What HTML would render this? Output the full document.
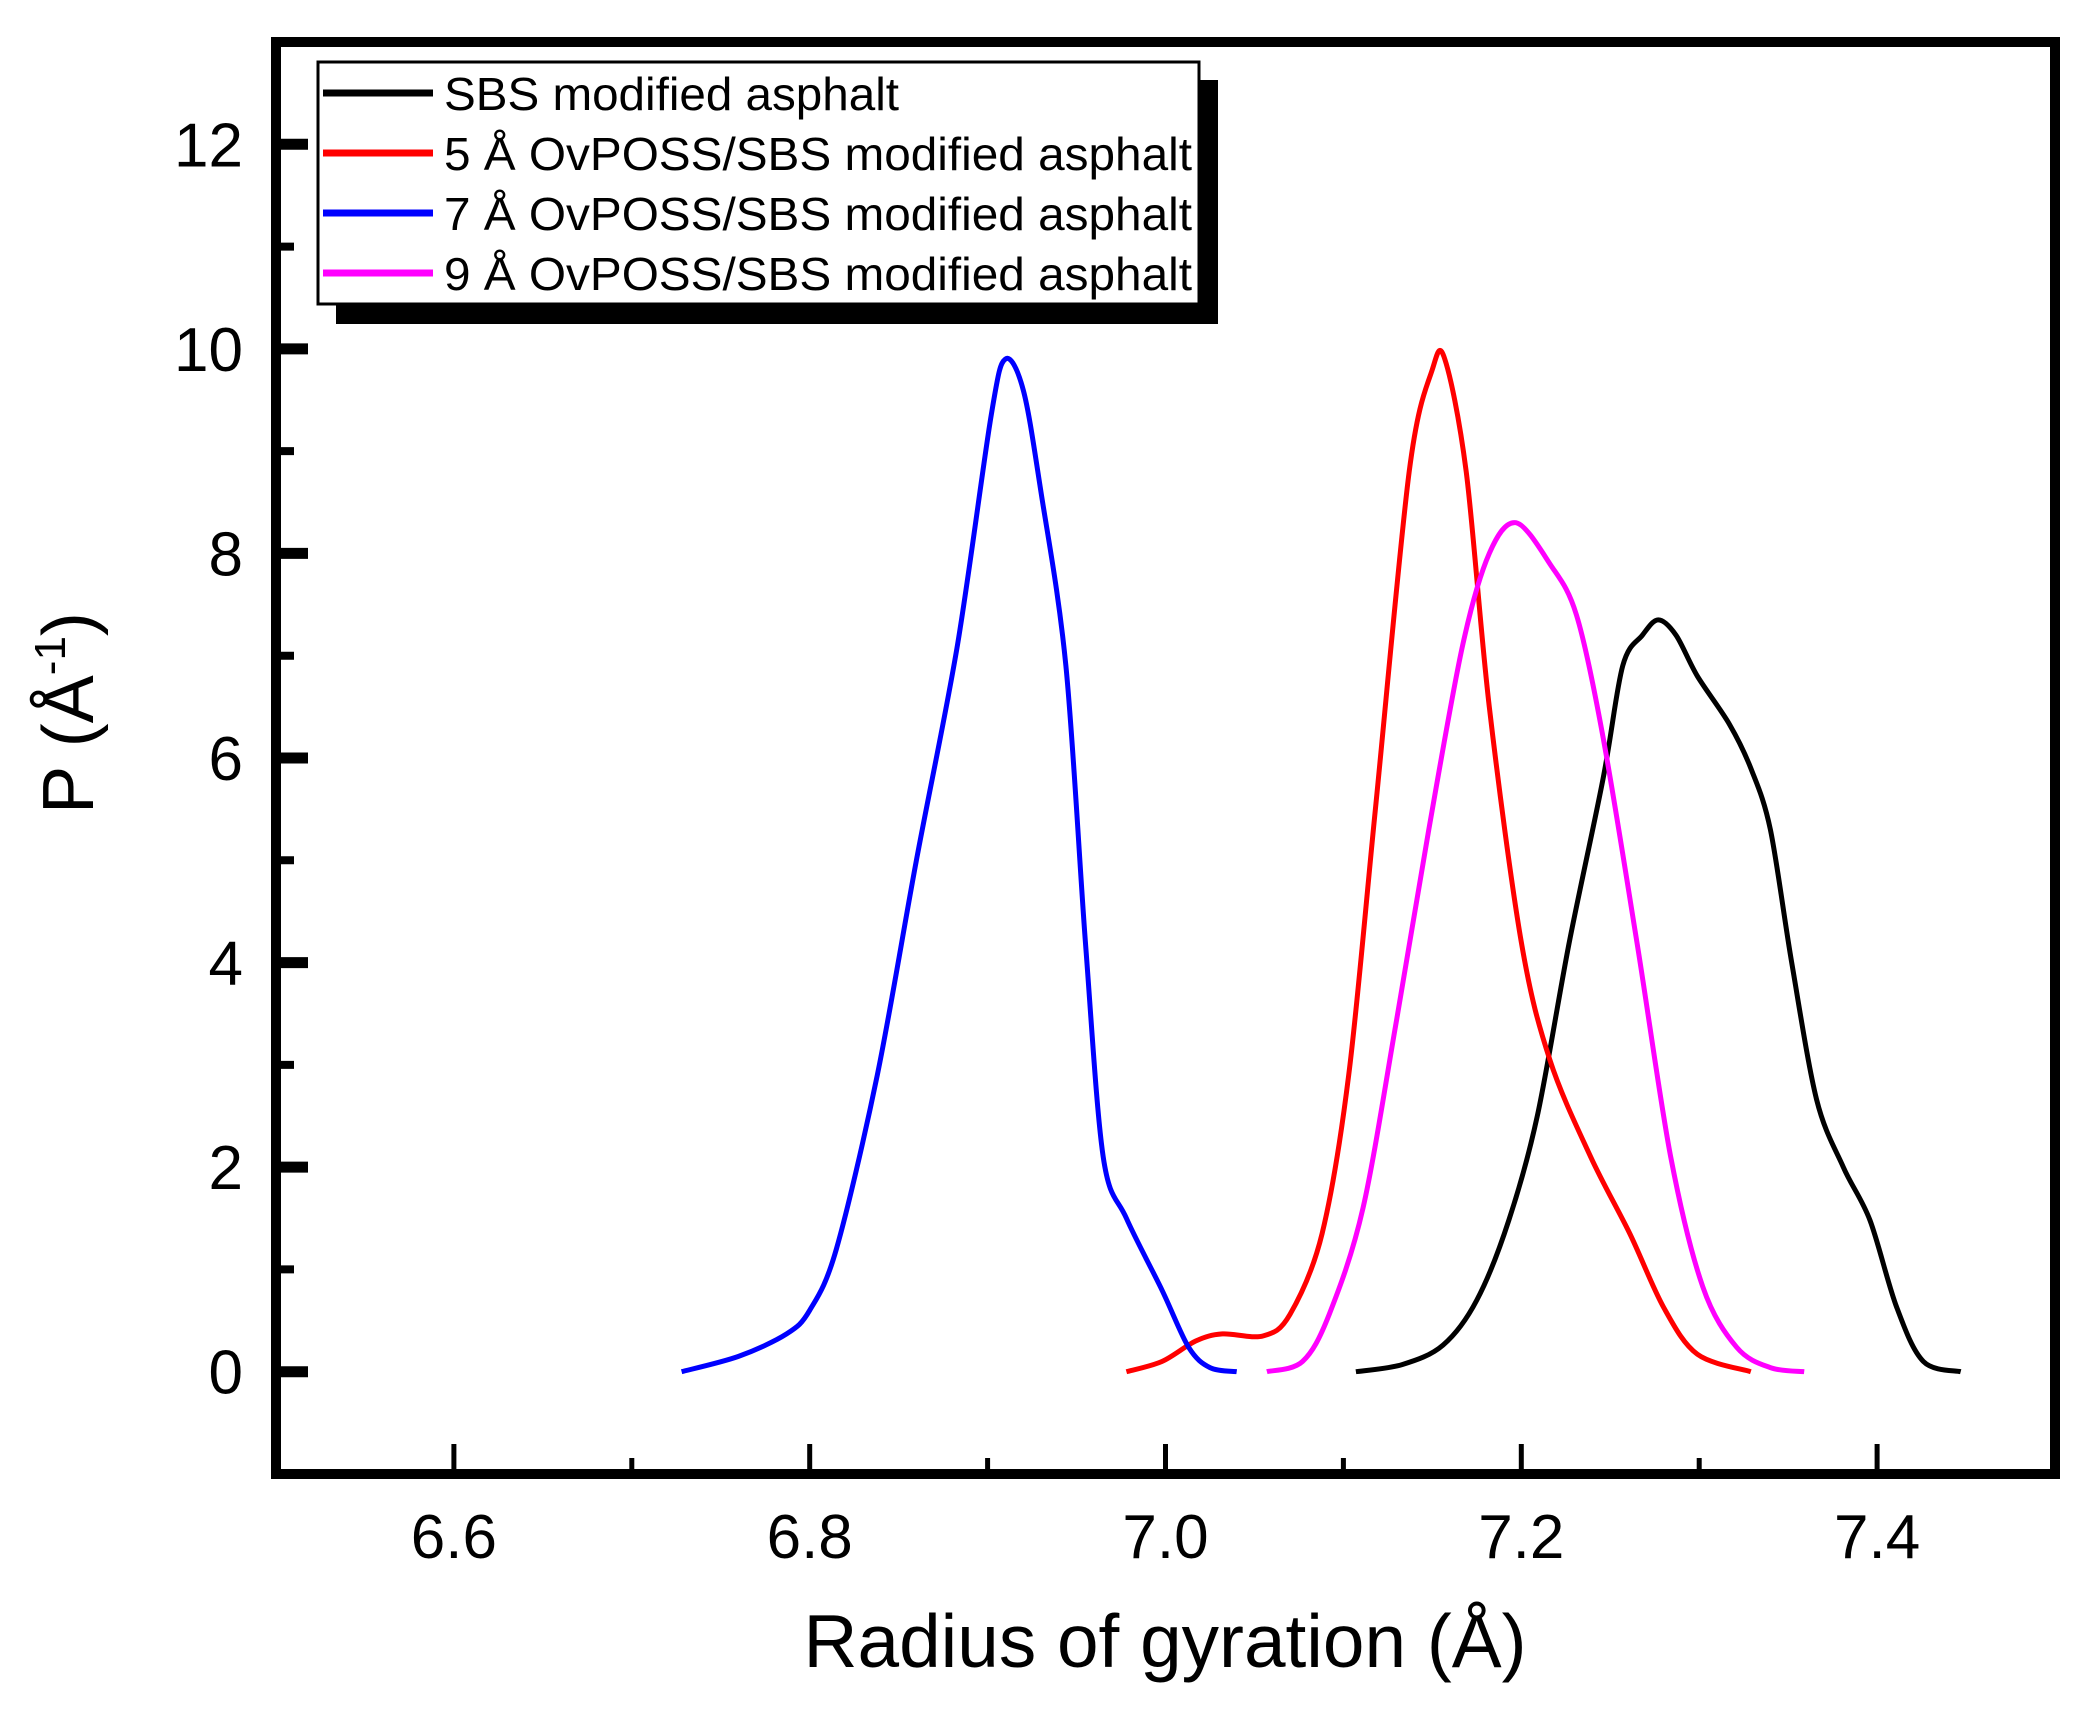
<!DOCTYPE html>
<html><head><meta charset="utf-8"><style>
html,body{margin:0;padding:0;background:#fff;}
svg{display:block;font-family:"Liberation Sans",Arial,sans-serif;}
</style></head><body>
<svg id="chart" width="2099" height="1710" viewBox="0 0 2099 1710" xmlns="http://www.w3.org/2000/svg">
<g id="plot"></g>
</svg>
<script>
const xTicks = [6.6, 6.8, 7.0, 7.2, 7.4];
const xTickLabels = ["6.6", "6.8", "7.0", "7.2", "7.4"];
const yTicks = [0, 2, 4, 6, 8, 10, 12];
const yTickLabels = ["0", "2", "4", "6", "8", "10", "12"];
const seriesNames = ["SBS modified asphalt", "5 Å OvPOSS/SBS modified asphalt", "7 Å OvPOSS/SBS modified asphalt", "9 Å OvPOSS/SBS modified asphalt"];
const sbsX = [7.107,7.133,7.156,7.175,7.193,7.209,7.227,7.246,7.257,7.268,7.277,7.287,7.299,7.317,7.329,7.34,7.352,7.366,7.381,7.396,7.411,7.426,7.447];
const sbsY = [0,0.07,0.26,0.7,1.48,2.5,4.2,5.8,6.9,7.2,7.35,7.2,6.8,6.33,5.9,5.3,4.0,2.66,2.0,1.48,0.63,0.1,0];
const poss5X = [6.978,6.998,7.017,7.032,7.055,7.07,7.088,7.103,7.118,7.137,7.15,7.157,7.169,7.182,7.2,7.216,7.239,7.261,7.28,7.299,7.329];
const poss5Y = [0,0.1,0.3,0.37,0.35,0.56,1.35,2.9,5.5,8.8,9.8,9.9,8.8,6.5,4.2,3.05,2.1,1.35,0.63,0.17,0];
const poss7X = [6.728,6.76,6.787,6.80,6.815,6.838,6.86,6.883,6.902,6.91,6.92,6.93,6.944,6.955,6.965,6.978,6.998,7.013,7.025,7.04];
const poss7Y = [0,0.15,0.37,0.6,1.2,2.9,5.0,7.1,9.35,9.9,9.6,8.6,6.9,4.2,2.1,1.5,0.8,0.24,0.04,0];
const poss9X = [7.057,7.077,7.092,7.111,7.13,7.148,7.167,7.182,7.197,7.216,7.231,7.246,7.265,7.284,7.302,7.321,7.34,7.359];
const poss9Y = [0,0.1,0.56,1.6,3.45,5.3,7.1,8.0,8.3,7.9,7.4,6.2,4.2,2.1,0.83,0.24,0.04,0];

const NS = "http://www.w3.org/2000/svg";
const L = 276, R = 2055, T = 42, B = 1474;
const xMin = 6.5, xMax = 7.5, yMin = -1, yMax = 13;
function X(v){ return L + (v - xMin) / (xMax - xMin) * (R - L); }
function Y(v){ return B - (v - yMin) / (yMax - yMin) * (B - T); }
const g = document.getElementById('plot');
function mk(tag, attrs, parent){ const e = document.createElementNS(NS, tag); for (const k in attrs) e.setAttribute(k, attrs[k]); (parent||g).appendChild(e); return e; }

const frame = mk('rect', {x:L, y:T, width:R-L, height:B-T, fill:'none', stroke:'#000', 'stroke-width':10});



for (let v = 0; v <= 12; v++) {
  const major = v % 2 === 0;
  const t = mk('line', {x1:L, x2:L + (major ? 32 : 18), y1:Y(v), y2:Y(v), stroke:'#000', 'stroke-width': major ? 11 : 8});
  
  
}
yTicks.forEach((v, i) => {
  const t = mk('text', {x:243, y:Y(v) + 22, 'text-anchor':'end', 'font-size':62, fill:'#000'});
  t.textContent = yTickLabels[i];
  
  
});
for (let k = 0; k <= 9; k++) {
  const v = 6.6 + k * 0.1;
  const major = k % 2 === 0;
  const t = mk('line', {x1:X(v), x2:X(v), y1:B, y2:B - (major ? 30 : 16), stroke:'#000', 'stroke-width':5});
  
  
}
xTicks.forEach((v, i) => {
  const t = mk('text', {x:X(v), y:1558, 'text-anchor':'middle', 'font-size':62, fill:'#000'});
  t.textContent = xTickLabels[i];
  
  
});
const xt = mk('text', {x:1165, y:1667, 'text-anchor':'middle', 'font-size':75, fill:'#000', textLength:723, lengthAdjust:'spacingAndGlyphs'});
xt.textContent = 'Radius of gyration (Å)';


const yt = mk('text', {x:0, y:0, 'text-anchor':'middle', 'font-size':72, fill:'#000', transform:'translate(93,713) rotate(-90)'});


yt.appendChild(document.createTextNode('P (Å'));
const sup = mk('tspan', {'font-size':44, dy:-28}, yt);
sup.textContent = '-1';
const cl = mk('tspan', {dy:28}, yt);
cl.textContent = ')';

function smoothPath(px, py){
  const pts = px.map((x, i) => [X(x), Y(py[i])]);
  let d = 'M' + pts[0][0].toFixed(1) + ',' + pts[0][1].toFixed(1);
  const k = 0.16;
  for (let i = 0; i < pts.length - 1; i++) {
    const p0 = pts[Math.max(i-1,0)], p1 = pts[i], p2 = pts[i+1], p3 = pts[Math.min(i+2, pts.length-1)];
    const c1 = [p1[0] + (p2[0]-p0[0])*k, p1[1] + (p2[1]-p0[1])*k];
    const c2 = [p2[0] - (p3[0]-p1[0])*k, p2[1] - (p3[1]-p1[1])*k];
    d += ' C' + c1[0].toFixed(1) + ',' + c1[1].toFixed(1) + ' ' + c2[0].toFixed(1) + ',' + c2[1].toFixed(1) + ' ' + p2[0].toFixed(1) + ',' + p2[1].toFixed(1);
  }
  return d;
}
const series = [[sbsX, sbsY, '#000', 'sbs'], [poss5X, poss5Y, '#ff0000', '5a-ovposs'], [poss7X, poss7Y, '#0000ff', '7a-ovposs'], [poss9X, poss9Y, '#ff00ff', '9a-ovposs']];
series.forEach(s => {
  const p = mk('path', {d:smoothPath(s[0], s[1]), fill:'none', stroke:s[2], 'stroke-width':5, 'stroke-linejoin':'round'});
  
  
});

const lg = mk('g', {});


mk('rect', {x:336, y:80, width:882, height:244, fill:'#000'}, lg);
mk('rect', {x:318, y:62, width:881, height:242, fill:'#fff', stroke:'#000', 'stroke-width':3}, lg);
const rowsY = [93, 153, 213, 273];
series.forEach((s, i) => {
  const e = mk('g', {}, lg);
  
  
  mk('line', {x1:323, x2:433, y1:rowsY[i], y2:rowsY[i], stroke:s[2], 'stroke-width':7}, e);
  const attrs = {x:444, y:rowsY[i] + 17, 'font-size':46, fill:'#000', lengthAdjust:'spacingAndGlyphs'};
  attrs.textLength = i > 0 ? 748 : 455;
  const t = mk('text', attrs, e);
  t.textContent = seriesNames[i];
});
</script>
</body></html>
